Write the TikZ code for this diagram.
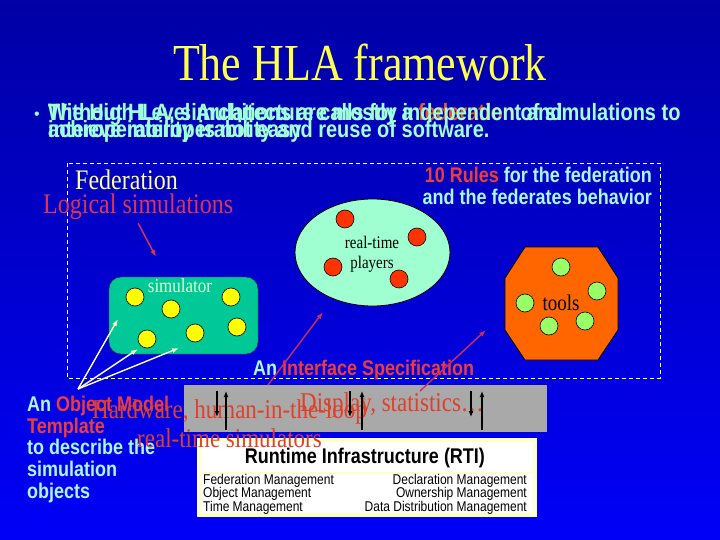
\documentclass[tikz,border=0pt]{standalone}
\usepackage{fontspec}
\usepackage{graphicx}
\setmainfont{Liberation Serif}
\setsansfont{Liberation Sans}
\usetikzlibrary{arrows.meta,shapes.geometric}
\definecolor{bgtop}{HTML}{0000A5}
\definecolor{bgbot}{HTML}{0000F8}
\definecolor{titleyellow}{HTML}{FFFF4D}
\definecolor{fedyellow}{HTML}{FFFF99}
\definecolor{bulletaqua}{HTML}{A0FFD8}
\definecolor{lightaqua}{HTML}{A8F8FF}
\definecolor{hlared}{HTML}{EE3B3B}
\definecolor{fedorange}{HTML}{E85A2A}
\definecolor{logicred}{HTML}{E03355}
\definecolor{hwred}{HTML}{E0402A}
\definecolor{simfill}{HTML}{00C896}
\definecolor{simlabel}{HTML}{E0FFD0}
\definecolor{playersfill}{HTML}{A0FFD0}
\definecolor{playerdot}{HTML}{FF3300}
\definecolor{toolsfill}{HTML}{FF6600}
\definecolor{tooldot}{HTML}{99FF66}
\definecolor{simdot}{HTML}{FFFF00}
\definecolor{omtarrow}{HTML}{FFFFCC}
\definecolor{ifsarrow}{HTML}{D02D5A}
\definecolor{bargray}{HTML}{A9A9A9}
\definecolor{rtiframe}{HTML}{FFFFCC}
\newcommand{\tallbox}[1]{\scalebox{1}[1.18]{#1}}

\begin{document}
\begin{tikzpicture}[x=1pt,y=-1pt,>={Latex[length=7pt,width=5pt]},
  txt/.style={inner sep=0pt},
  bullettxt/.style={txt,text=bulletaqua,font=\sffamily\bfseries\fontsize{20}{20}\selectfont},
  sansb/.style={txt,font=\sffamily\bfseries\fontsize{18}{18}\selectfont},
  serifred/.style={txt,text=hwred,font=\fontsize{23}{23}\selectfont},
  rtiitem/.style={txt,text=black,font=\sffamily\fontsize{12}{12}\selectfont},
  dot/.style={circle,draw=black,line width=.6pt,minimum size=18pt,inner sep=0pt},
  redarrow/.style={->,line width=1.4pt},
  barrow/.style={->,black,line width=1.8pt,>={Latex[length=6pt,width=5pt]}}]
  \shade[top color=bgtop,bottom color=bgbot] (0,0) rectangle (720,540);
  \useasboundingbox (0,0) rectangle (720,540);

  % title and bullet
  \node[txt,anchor=base,text=titleyellow,font=\fontsize{44}{44}\selectfont]
    (title) at (360,81) {\tallbox{The HLA framework}};
  \node[txt,text=bulletaqua,font=\sffamily\fontsize{16}{16}\selectfont]
    (bullet) at (37,116) {•};
  \node[bullettxt,anchor=base west] (hla-a1) at (48,121)
    {\tallbox{The High Level Architecture calls for a \textcolor{fedorange}{federation} of simulations to}};
  \node[bullettxt,anchor=base west] (hla-a2) at (48,138)
    {\tallbox{achieve interoperability and reuse of software.}};
  \node[bullettxt,anchor=base west] (hla-b1) at (48,121)
    {\tallbox{Without HLA, simulations are mostly independent and}};
  \node[bullettxt,anchor=base west] (hla-b2) at (48,138)
    {\tallbox{interoperability is not easy}};

  % federation frame
  \draw[white,dash pattern=on 4pt off 3pt,line width=.7pt] (67,163) rectangle (660,378);
  \node[txt,anchor=base west,text=fedyellow,font=\fontsize{24}{24}\selectfont]
    (federation) at (75,190) {\tallbox{Federation}};
  \node[txt,anchor=base west,text=logicred,font=\fontsize{24}{24}\selectfont]
    (logical) at (43,214) {\tallbox{Logical simulations}};
  \node[sansb,anchor=base east,text=lightaqua] (rules-1) at (652,183)
    {\tallbox{\textcolor{hlared}{10 Rules} for the federation}};
  \node[sansb,anchor=base east,text=lightaqua] (rules-2) at (652,205)
    {\tallbox{and the federates behavior}};

  % simulator
  \node[draw=black!80,fill=simfill,rounded corners=12pt,minimum width=149pt,
    minimum height=77pt] (simulator) at (183.5,315.5) {};
  \node[txt,anchor=base,text=simlabel,font=\fontsize{17}{17}\selectfont]
    (simulator-label) at (180,292) {\tallbox{simulator}};
  \foreach \px/\py [count=\i] in {135/297,171/309,231/297,147/339,195/333,237/327}
    \node[dot,fill=simdot] (sim-dot-\i) at (\px,\py) {};
  \coordinate (sim-entry) at (156,257);
  \draw[redarrow,logicred] ([yshift=-3pt]logical.south) -- (sim-entry);

  % real-time players
  \node[ellipse,draw=black,line width=.8pt,fill=playersfill,minimum width=155pt,
    minimum height=107pt,inner sep=0pt] (players) at (372.5,252.5) {};
  \node[txt,anchor=base,font=\fontsize{15}{15}\selectfont] (players-l1) at (372,248)
    {\tallbox{real-time}};
  \node[txt,anchor=base,font=\fontsize{15}{15}\selectfont] (players-l2) at (372,268)
    {\tallbox{players}};
  \foreach \px/\py [count=\i] in {345/219,417/237,333/267,399/279}
    \node[dot,fill=playerdot] (player-dot-\i) at (\px,\py) {};

  % tools
  \filldraw[fill=toolsfill,draw=black,line width=.8pt] (525,247) -- (598,247)
    -- (618,278) -- (618,330) -- (598,360) -- (525,360) -- (505,330) -- (505,278) -- cycle;
  \node[txt,font=\fontsize{19}{19}\selectfont] (tools) at (561,303) {\tallbox{tools}};
  \foreach \px/\py [count=\i] in {561/267,597/291,525/303,585/321,549/326}
    \node[dot,fill=tooldot] (tool-dot-\i) at (\px,\py) {};

  % interface specification
  \node[sansb,anchor=base west,text=lightaqua] (interface) at (253,375)
    {\tallbox{An \textcolor{hlared}{Interface Specification}}};

  % display bar
  \node[fill=bargray,minimum width=363pt,minimum height=47pt,inner sep=0pt]
    (display-bar) at (365.5,408.5) {};
  \coordinate (ifs-a) at (268,385);
  \coordinate (players-entry) at (323,312);
  \coordinate (ifs-b) at (420,391);
  \coordinate (tools-entry) at (486,330);
  \draw[redarrow,ifsarrow] (ifs-a) -- (players-entry);
  \draw[redarrow,ifsarrow] (ifs-b) -- (tools-entry);

  % object model template
  \node[sansb,anchor=base west,text=lightaqua] (omt-1) at (27,411)
    {\tallbox{An \textcolor{hlared}{Object Model}}};
  \node[sansb,anchor=base west,text=hlared] (omt-2) at (27,433) {\tallbox{Template}};
  \node[sansb,anchor=base west,text=lightaqua] (omt-3) at (27,454) {\tallbox{to describe the}};
  \node[sansb,anchor=base west,text=lightaqua] (omt-4) at (27,476) {\tallbox{simulation}};
  \node[sansb,anchor=base west,text=lightaqua] (omt-5) at (27,498) {\tallbox{objects}};
  \coordinate (omt-tip) at (78,389);
  \coordinate (sim-in-1) at (118,319);
  \coordinate (sim-in-2) at (138,349);
  \coordinate (sim-in-3) at (179,348);
  \foreach \j in {1,2,3}
    \draw[redarrow,omtarrow] (omt-tip) -- (sim-in-\j);

  % runtime infrastructure
  \node[fill=white,draw=rtiframe,line width=4pt,minimum width=336pt,
    minimum height=75pt,inner sep=0pt] (rti) at (367,477.5) {};
  \node[sansb,anchor=base,text=black] (rti-title) at (365,463)
    {\tallbox{Runtime Infrastructure (RTI)}};
  \draw[rtiframe,line width=1.2pt] (201,473) -- (533,473);
  \node[rtiitem,anchor=base west] (rti-fm) at (203,484.5) {\tallbox{Federation Management}};
  \node[rtiitem,anchor=base west] (rti-om) at (203,497.5) {\tallbox{Object Management}};
  \node[rtiitem,anchor=base west] (rti-tm) at (203,511) {\tallbox{Time Management}};
  \node[rtiitem,anchor=base east] (rti-dm) at (527,484.5) {\tallbox{Declaration Management}};
  \node[rtiitem,anchor=base east] (rti-ow) at (527,497.5) {\tallbox{Ownership Management}};
  \node[rtiitem,anchor=base east] (rti-dd) at (527,511) {\tallbox{Data Distribution Management}};

  % overlapping texts
  \node[serifred,anchor=base west] (display) at (300,411) {\tallbox{Display, statistics\dots}};
  \node[serifred,anchor=base west] (hardware) at (92,418) {\tallbox{Hardware, human-in-the-loop}};
  \node[serifred,anchor=base west] (rt-sim) at (137,447) {\tallbox{real-time simulators}};
  \foreach \dn/\up in {217/226,350/362,471/482} {
    \draw[barrow] (\dn,391) -- (\dn,417);
    \draw[barrow] (\up,430) -- (\up,391);
  }
\end{tikzpicture}
\end{document}
